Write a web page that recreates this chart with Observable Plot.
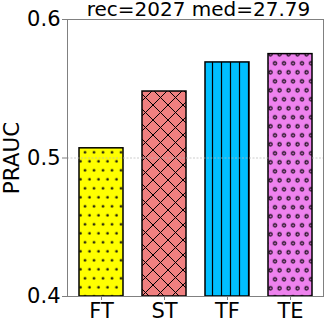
<!DOCTYPE html>
<html><head><meta charset="utf-8">
<script src="https://cdn.jsdelivr.net/npm/d3@7"></script>
<script src="https://cdn.jsdelivr.net/npm/@observablehq/plot@0.6"></script>
<style>html,body{margin:0;padding:0;background:#fff}</style>
</head><body><div id="chart"></div>
<script>
const categories = ["FT", "ST", "TF", "TE"];
const values = [0.507, 0.548, 0.569, 0.575];
const yTicks = [0.4, 0.5, 0.6];
const gridValues = [0.5];
const baseline = 0.4;
const title = "rec=2027 med=27.79";
const yLabel = "PRAUC";
const colors = ["#ffff00", "#f08080", "#00bfff", "#ee82ee"];
const hatches = ["dots", "cross", "vlines", "rings"];

const data = categories.map((c, i) => ({cat: c, v: values[i], hatch: hatches[i]}));
const font = "'DejaVu Sans', sans-serif";

const hatchMarks = data.map(d =>
  Plot.barY([d], {x: "cat", y1: () => baseline, y2: "v", fill: `url(#h-${d.hatch})`})
);

const svg = Plot.plot({
  width: 324, height: 324,
  marginTop: 19, marginRight: 1, marginBottom: 28, marginLeft: 67,
  style: {fontFamily: font, background: "#fff", color: "#000", overflow: "visible"},
  x: {domain: categories, paddingInner: 0.305, paddingOuter: 0.175, axis: null},
  y: {domain: [0.4, 0.6], axis: null},
  color: {domain: categories, range: colors},
  marks: [
    Plot.barY(data, {x: "cat", y1: () => baseline, y2: "v", fill: "cat"}),
    ...hatchMarks,
    Plot.barY(data, {x: "cat", y1: () => baseline, y2: "v", fill: "none", stroke: "#000", strokeWidth: 1.5}),
    Plot.gridY(gridValues, {stroke: "#b8b8b8", strokeDasharray: "2,1.5", strokeOpacity: 0.7, strokeWidth: 1}),
    Plot.frame({stroke: "#808080", strokeWidth: 1}),
    Plot.axisY({ticks: yTicks, tickFormat: d3.format(".1f"), tickSize: 5, tickPadding: 2, fontSize: 21, label: null, stroke: "#808080", fill: "#000"}),
    Plot.axisX({tickSize: 4, tickPadding: 3, fontSize: 21, label: null, stroke: "#808080", fill: "#000"}),
    Plot.text([yLabel], {frameAnchor: "left", textAnchor: "middle", rotate: -90, dx: -55, fontSize: 21.5, fill: "#000"}),
    Plot.text([title], {frameAnchor: "top", textAnchor: "middle", dy: -3.5, dx: 3, lineAnchor: "bottom", fontSize: 20, fill: "#000"})
  ]
});

d3.select(svg).insert("defs", ":first-child").html(`
  <pattern id="h-dots" patternUnits="userSpaceOnUse" x="1.75" y="3.8" width="9" height="18">
    <circle cx="2.25" cy="4.5" r="1.3" fill="#111"/>
    <circle cx="6.75" cy="13.5" r="1.3" fill="#111"/>
  </pattern>
  <pattern id="h-rings" patternUnits="userSpaceOnUse" x="2.75" y="4.8" width="9" height="18">
    <circle cx="2.25" cy="4.5" r="1.6" fill="none" stroke="#000" stroke-width="1.1"/>
    <circle cx="6.75" cy="13.5" r="1.6" fill="none" stroke="#000" stroke-width="1.1"/>
  </pattern>
  <pattern id="h-vlines" patternUnits="userSpaceOnUse" x="0" y="0" width="9" height="9">
    <line x1="5.5" y1="0" x2="5.5" y2="9" stroke="#000" stroke-width="1.2"/>
  </pattern>
  <pattern id="h-cross" patternUnits="userSpaceOnUse" x="3" y="0" width="15" height="15">
    <path d="M-1,-1L16,16M16,-1L-1,16" stroke="#000" stroke-width="1" fill="none"/>
  </pattern>
`);

document.getElementById("chart").appendChild(svg);
</script>
</body></html>
